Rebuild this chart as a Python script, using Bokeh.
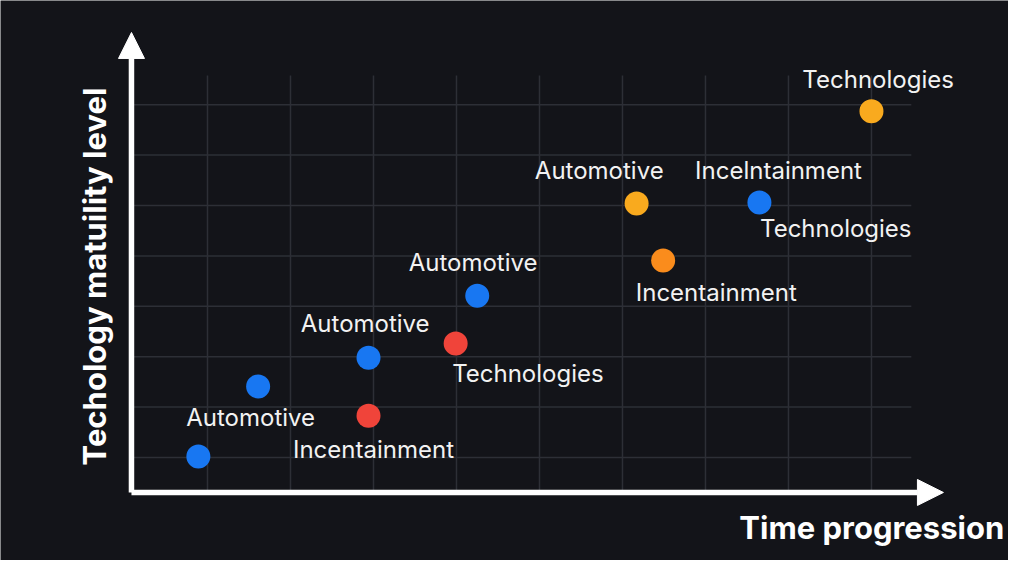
from bokeh.plotting import figure
from bokeh.models import ColumnDataSource, Arrow, NormalHead, Label, Range1d
from bokeh.embed import file_html
from bokeh.resources import INLINE
from bokeh.core.properties import value
import math

# ---- data ----
point_x = [-0.11, 0.61, 1.94, 3.25, 6.65, 1.94, 2.99, 5.17, 8.0, 5.49]
point_y = [0.02, 1.41, 1.98, 3.21, 5.06, 0.83, 2.26, 5.04, 6.87, 3.91]
point_color = ["#1877F2", "#1877F2", "#1877F2", "#1877F2", "#1877F2",
               "#F0443A", "#F0443A", "#F9AA1E", "#F9AA1E", "#FA8C1C"]

label_text = ["Automotive", "Automotive", "Incentainment", "Technologies", "Automotive",
              "Automotive", "Incelntainment", "Technologies", "Incentainment", "Technologies"]
label_x = [0.52, 1.90, 2.00, 3.86, 3.20, 4.72, 6.88, 7.57, 6.13, 8.08]
label_y = [0.79, 2.66, 0.16, 1.67, 3.87, 5.69, 5.69, 4.54, 3.27, 7.50]

grid_x = [0, 1, 2, 3, 4, 5, 6, 7, 8]
grid_y = [0, 1, 2, 3, 4, 5, 6, 7]

x_title = "Time progression"
y_title = "Techology matuility level"

# ---- layout constants ----
W, H = 1008, 560
X0, X1 = -2.494, 9.651
Y0, Y1 = -2.044, 9.067
AX_X, AX_Y = -0.916, -0.694
X_TIP, Y_TIP = 8.867, 8.433
GRID_TOP, GRID_RIGHT = 7.58, 8.48

BG = "#131419"

p = figure(width=W, height=H, output_backend="svg", toolbar_location=None,
           x_axis_location=None, y_axis_location=None,
           x_range=Range1d(X0, X1), y_range=Range1d(Y0, Y1),
           min_border=0, outline_line_color=None,
           background_fill_color=BG, border_fill_color=BG)
p.xgrid.visible = False
p.ygrid.visible = False

grid_col = "#2D2F36"
# vertical grid lines
p.segment(x0=grid_x, y0=[AX_Y] * len(grid_x), x1=grid_x, y1=[GRID_TOP] * len(grid_x),
          line_color=grid_col, line_width=1.5)
# horizontal grid lines
p.segment(x0=[AX_X] * len(grid_y), y0=grid_y, x1=[GRID_RIGHT] * len(grid_y), y1=grid_y,
          line_color=grid_col, line_width=1.5)

# axes with arrowheads
p.add_layout(Arrow(end=NormalHead(size=26, fill_color="white", line_color="white"),
                   x_start=AX_X, y_start=AX_Y, x_end=AX_X, y_end=Y_TIP,
                   line_color="white", line_width=5.5))
p.add_layout(Arrow(end=NormalHead(size=26, fill_color="white", line_color="white"),
                   x_start=AX_X, y_start=AX_Y, x_end=X_TIP, y_end=AX_Y,
                   line_color="white", line_width=5.5))

# points
src = ColumnDataSource(dict(x=point_x, y=point_y, c=point_color))
p.scatter("x", "y", source=src, size=24, fill_color="c", line_color=None)

# labels
lsrc = ColumnDataSource(dict(x=label_x, y=label_y, t=label_text))
p.text("x", "y", text="t", source=lsrc, text_color="#F2F2F2",
       text_font=value("Inter"), text_font_size="24px",
       text_align="center", text_baseline="middle")

# axis titles
p.add_layout(Label(x=9.60, y=-1.39, text=x_title, text_color="white",
                   text_font="Inter", text_font_size="31px", text_font_style="bold",
                   text_align="right", text_baseline="middle"))
p.add_layout(Label(x=-1.36, y=3.59, text=y_title, text_color="white",
                   text_font="Inter", text_font_size="31px", text_font_style="bold",
                   angle=math.pi / 2, text_align="center", text_baseline="middle"))

open("out.html", "w").write(file_html(p, INLINE))
